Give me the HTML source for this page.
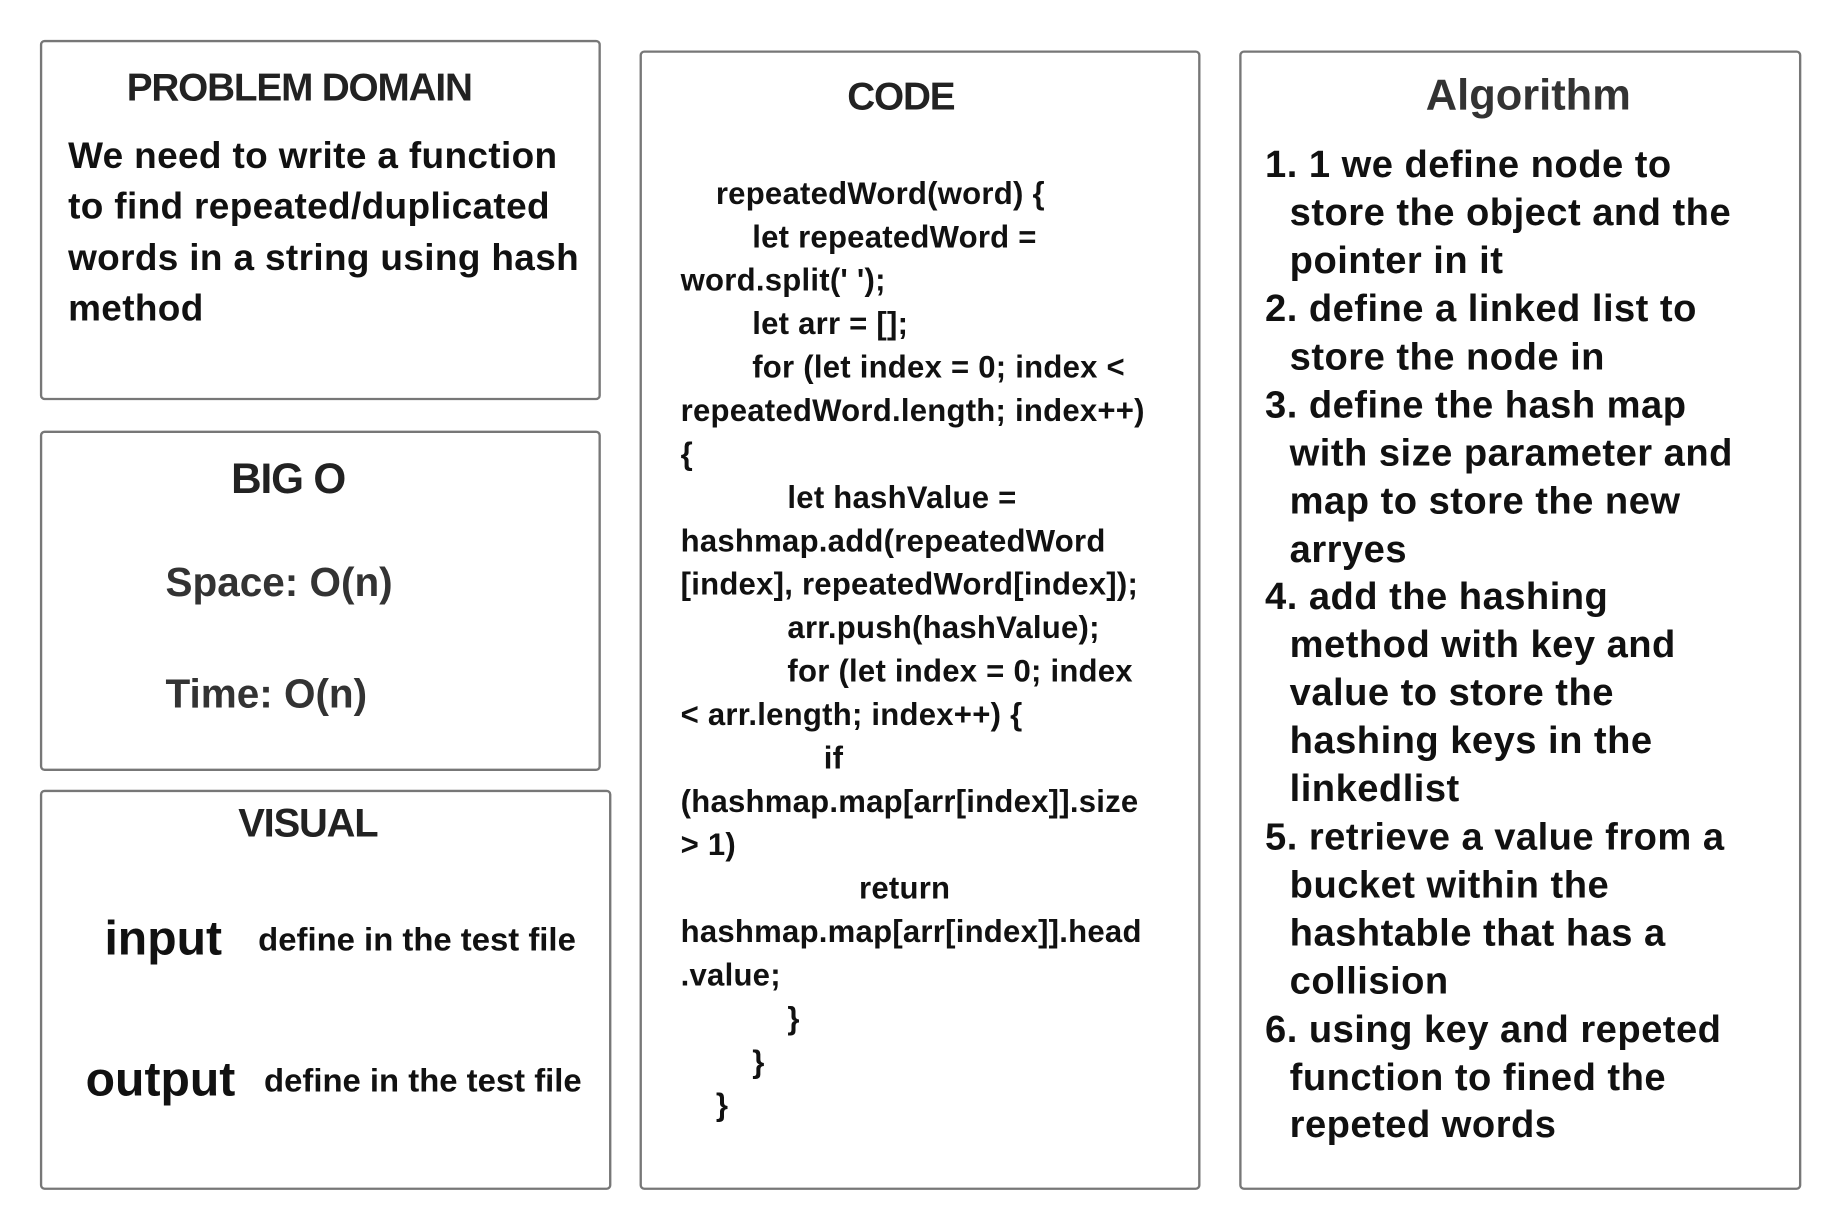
<!DOCTYPE html>
<html><head><meta charset="utf-8"><style>
body{margin:0;background:#fff;width:1840px;height:1230px;overflow:hidden}
#s{position:absolute;left:0;top:0;width:1560px;height:1043px;transform:scale(1.1735);transform-origin:0 0;font-family:"Liberation Sans",Arial,sans-serif;font-weight:bold;color:#111}
.b{position:absolute;border:2px solid #777;border-radius:4px;box-sizing:border-box;background:#fff}
.t{position:absolute;white-space:nowrap;transform:translateY(-50%);line-height:1}
.h{color:#222;letter-spacing:-1px}
.c{font-size:26.5px;letter-spacing:0.2px}
.a{font-size:32.5px;letter-spacing:0.4px}
.p{font-size:31.5px;letter-spacing:0.3px}
</style></head><body><div id="s">
<div class="b" style="left:34px;top:34px;width:478px;height:307px"></div>
<div class="b" style="left:34px;top:367px;width:478px;height:290px"></div>
<div class="b" style="left:34px;top:673px;width:487px;height:341px"></div>
<div class="b" style="left:545px;top:43px;width:478px;height:971px"></div>
<div class="b" style="left:1056px;top:43px;width:479px;height:971px"></div>

<div class="t h" style="left:108px;top:74px;font-size:33px">PROBLEM DOMAIN</div>
<div class="t p" style="left:58px;top:133px">We need to write a function</div>
<div class="t p" style="left:58px;top:176px">to find repeated/duplicated</div>
<div class="t p" style="left:58px;top:220px">words in a string using hash</div>
<div class="t p" style="left:58px;top:263px">method</div>

<div class="t h" style="left:197px;top:408px;font-size:36px">BIG O</div>
<div class="t" style="left:141px;top:497px;font-size:34.5px;color:#333">Space: O(n)</div>
<div class="t" style="left:141px;top:592px;font-size:34.5px;color:#333">Time: O(n)</div>

<div class="t h" style="left:203px;top:702px;font-size:34px">VISUAL</div>
<div class="t" style="left:89px;top:800px;font-size:41px">input</div>
<div class="t" style="left:220px;top:801px;font-size:28px">define in the test file</div>
<div class="t" style="left:73px;top:920px;font-size:41px">output</div>
<div class="t" style="left:225px;top:921px;font-size:28px">define in the test file</div>

<div class="t h" style="left:722px;top:82px;font-size:33px">CODE</div>
<div class="t c" style="left:610px;top:165px">repeatedWord(word) {</div>
<div class="t c" style="left:641px;top:202px">let repeatedWord =</div>
<div class="t c" style="left:580px;top:239px">word.split(' ');</div>
<div class="t c" style="left:641px;top:276px">let arr = [];</div>
<div class="t c" style="left:641px;top:313px">for (let index = 0; index &lt;</div>
<div class="t c" style="left:580px;top:350px">repeatedWord.length; index++)</div>
<div class="t c" style="left:580px;top:387px">{</div>
<div class="t c" style="left:671px;top:424px">let hashValue =</div>
<div class="t c" style="left:580px;top:461px">hashmap.add(repeatedWord</div>
<div class="t c" style="left:580px;top:498px">[index], repeatedWord[index]);</div>
<div class="t c" style="left:671px;top:535px">arr.push(hashValue);</div>
<div class="t c" style="left:671px;top:572px">for (let index = 0; index</div>
<div class="t c" style="left:580px;top:609px">&lt; arr.length; index++) {</div>
<div class="t c" style="left:702px;top:646px">if</div>
<div class="t c" style="left:580px;top:683px">(hashmap.map[arr[index]].size</div>
<div class="t c" style="left:580px;top:720px">&gt; 1)</div>
<div class="t c" style="left:732px;top:757px">return</div>
<div class="t c" style="left:580px;top:794px">hashmap.map[arr[index]].head</div>
<div class="t c" style="left:580px;top:831px">.value;</div>
<div class="t c" style="left:671px;top:868px">}</div>
<div class="t c" style="left:641px;top:905px">}</div>
<div class="t c" style="left:610px;top:942px">}</div>

<div class="t" style="left:1215px;top:81px;font-size:37px;color:#333">Algorithm</div>
<div class="t a" style="left:1078px;top:140px">1. 1 we define node to</div>
<div class="t a" style="left:1099px;top:181px">store the object and the</div>
<div class="t a" style="left:1099px;top:222px">pointer in it</div>
<div class="t a" style="left:1078px;top:263px">2. define a linked list to</div>
<div class="t a" style="left:1099px;top:304px">store the node in</div>
<div class="t a" style="left:1078px;top:345px">3. define the hash map</div>
<div class="t a" style="left:1099px;top:386px">with size parameter and</div>
<div class="t a" style="left:1099px;top:427px">map to store the new</div>
<div class="t a" style="left:1099px;top:468px">arryes</div>
<div class="t a" style="left:1078px;top:508px">4. add the hashing</div>
<div class="t a" style="left:1099px;top:549px">method with key and</div>
<div class="t a" style="left:1099px;top:590px">value to store the</div>
<div class="t a" style="left:1099px;top:631px">hashing keys in the</div>
<div class="t a" style="left:1099px;top:672px">linkedlist</div>
<div class="t a" style="left:1078px;top:713px">5. retrieve a value from a</div>
<div class="t a" style="left:1099px;top:754px">bucket within the</div>
<div class="t a" style="left:1099px;top:795px">hashtable that has a</div>
<div class="t a" style="left:1099px;top:836px">collision</div>
<div class="t a" style="left:1078px;top:877px">6. using key and repeted</div>
<div class="t a" style="left:1099px;top:918px">function to fined the</div>
<div class="t a" style="left:1099px;top:958px">repeted words</div>
</div></body></html>
